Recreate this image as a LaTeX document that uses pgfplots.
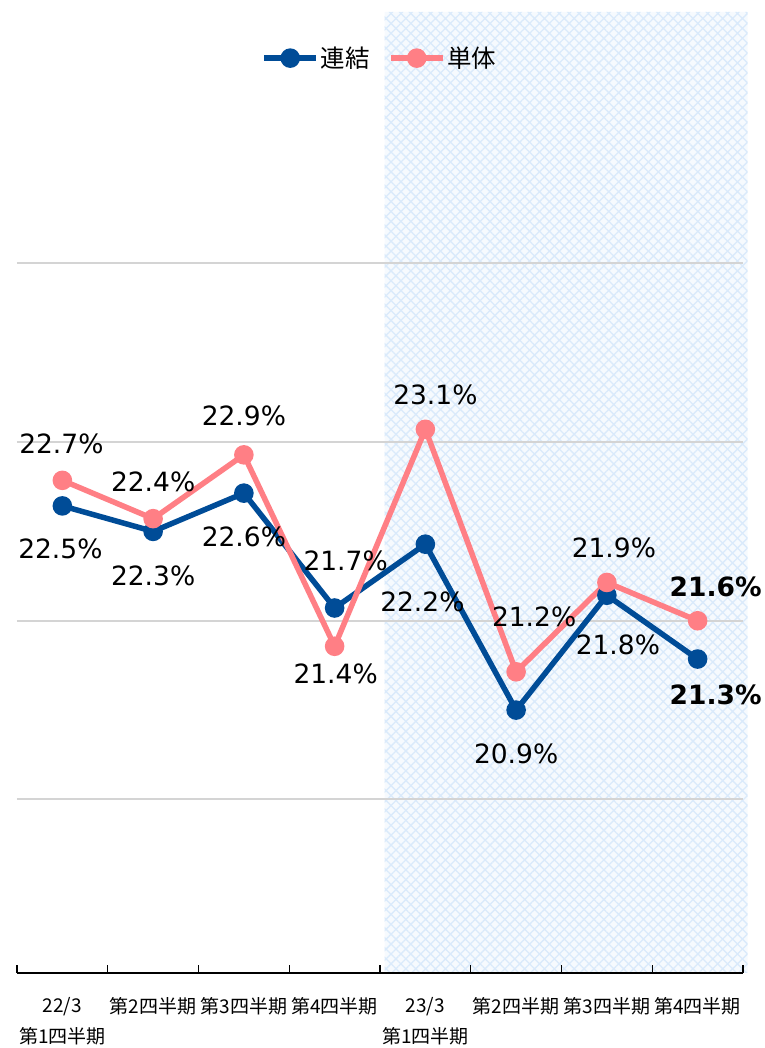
\documentclass[border=0pt]{standalone}
\usepackage{fontspec}
\setmainfont{DejaVu Sans}
\newfontfamily\jp{Noto Sans CJK JP}
\usepackage{pgfplots}
\pgfplotsset{compat=1.18}
\usepackage{pgfplotstable}
\usetikzlibrary{patterns.meta}
\definecolor{cblue}{HTML}{004C97}
\definecolor{cpink}{HTML}{FF7F85}
\definecolor{cgrid}{HTML}{D4D4D4}
\definecolor{hatch}{HTML}{DAEAFB}

\pgfplotstableread{
x y dx dy lab
0 22.5 -2 -43 {22.5\%}
1 22.3 0 -44 {22.3\%}
2 22.6 0 -44 {22.6\%}
3 21.7 11 47 {21.7\%}
4 22.2 -3 -58 {22.2\%}
5 20.9 0 -44 {20.9\%}
6 21.8 11 -50 {21.8\%}
7 21.3 18 -36 {\textbf{21.3\%}}
}\renketsu
\pgfplotstableread{
x y dx dy lab
0 22.7 -1 37 {22.7\%}
1 22.4 0 37 {22.4\%}
2 22.9 0 39 {22.9\%}
3 21.4 1 -28 {21.4\%}
4 23.1 10 34 {23.1\%}
5 21.2 18 55 {21.2\%}
6 21.9 7 35 {21.9\%}
7 21.6 18 34 {\textbf{21.6\%}}
}\tantai

\pgfplotsset{lbl/.style={
  nodes near coords,
  point meta=explicit symbolic,
  visualization depends on={\thisrow{dx} \as \dx},
  visualization depends on={\thisrow{dy} \as \dy},
  every node near coord/.append style={anchor=center, xshift=\dx pt, yshift=\dy pt, font=\fontsize{26.5}{30}\selectfont, text=black},
}}

\begin{document}
\begin{tikzpicture}
\begin{axis}[
  set layers,
  at={(0pt,0pt)}, anchor=south west,
  scale only axis,
  width=726pt, height=961pt,
  xmin=-0.5, xmax=7.5,
  ymin=18.84, ymax=26.37,
  clip=false,
  axis x line*=bottom,
  axis y line*=left,
  y axis line style={draw=none},
  major y tick style={draw=none},
  x axis line style={black, line width=1.6pt, -},
  xtick={0,...,7},
  major x tick style={draw=none},
  minor xtick={-0.5,0.5,...,7.5},
  minor x tick style={black, line width=1.4pt},
  minor tick length=8pt,
  tick align=inside,
  xtick pos=bottom,
  xticklabels={{22/3\\第1四半期},第2四半期,第3四半期,第4四半期,{23/3\\第1四半期},第2四半期,第3四半期,第4四半期},
  xticklabel style={font=\jp\fontsize{19}{31}\selectfont, align=center, anchor=north, inner sep=0pt, yshift=-24pt},
  ytick={20.2,21.6,23.0,24.4},
  ymajorgrids,
  yticklabels={},
  major grid style={cgrid, line width=2pt},
  legend style={at={(0.5,0.952)}, anchor=center, draw=none, fill=none,
    font=\jp\fontsize{24.5}{24.5}\selectfont, legend columns=2,
    /tikz/every even column/.append style={column sep=16pt}},
  legend image code/.code={\draw[#1, mark repeat=2, mark phase=2] plot coordinates {(0pt,0pt) (26pt,0pt) (52pt,0pt)};},
]
\addplot[draw=none, fill=hatch!25, on layer=axis background, forget plot] coordinates {(3.55,18.84) (7.55,18.84) (7.55,26.37) (3.55,26.37)} \closedcycle;
\addplot[draw=none, pattern={Hatch[angle=45, distance=7pt, line width=1.3pt]}, pattern color=hatch, on layer=axis background, forget plot] coordinates {(3.55,18.84) (7.55,18.84) (7.55,26.37) (3.55,26.37)} \closedcycle;
\addplot[cblue, line width=5.5pt, mark=*, mark size=7pt, mark options={solid}, lbl] table[x=x, y=y, meta=lab] {\renketsu};
\addlegendentry{連結}
\addplot[cpink, line width=5.5pt, mark=*, mark size=7pt, mark options={solid}, lbl] table[x=x, y=y, meta=lab] {\tantai};
\addlegendentry{単体}
\end{axis}
\path (-17pt,-75pt) rectangle (747pt,973pt);
\end{tikzpicture}
\end{document}
